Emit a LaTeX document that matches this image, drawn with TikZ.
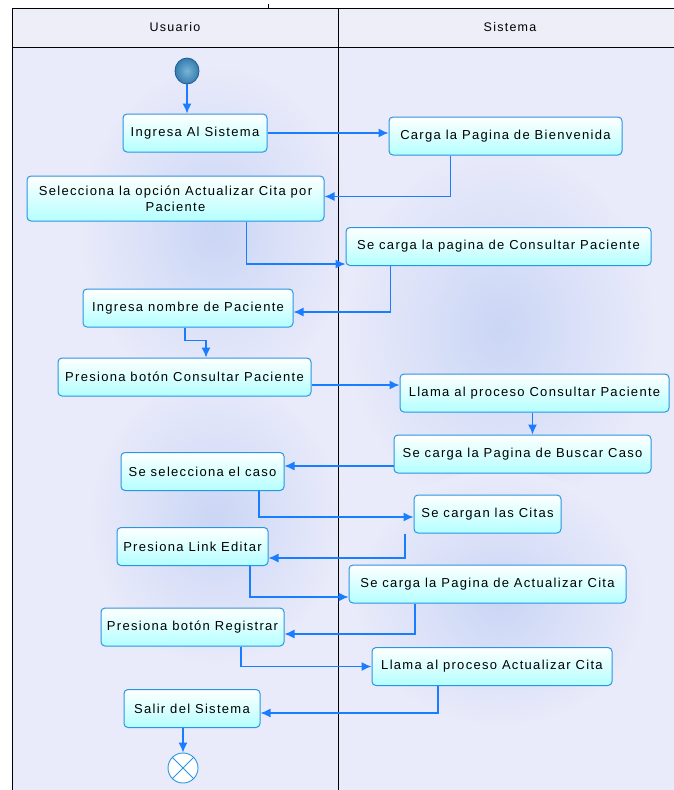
\documentclass[tikz,border=0pt]{standalone}
\usepackage{fontspec}
\setmainfont{Liberation Sans}[LetterSpace=10]
\usetikzlibrary{arrows.meta,shapes.geometric}
\definecolor{lane}{RGB}{234,235,250}
\definecolor{blob}{RGB}{202,214,245}
\definecolor{hdr}{RGB}{238,238,248}
\definecolor{nodeb}{RGB}{40,150,225}
\definecolor{conn}{RGB}{25,125,255}
\definecolor{cyanf}{RGB}{180,255,255}
\tikzset{
  act/.style={draw=nodeb, line width=1pt, rounded corners=4pt, top color=white, bottom color=cyanf,
    minimum height=38pt, font=\fontsize{13}{16}\selectfont, inner sep=2pt, align=center},
  flow/.style={draw=conn, line width=1.3pt, -{Latex[length=10pt,width=9pt]}},
  lanetxt/.style={font=\fontsize{12.5}{15}\selectfont}
}
\begin{document}
\begin{tikzpicture}[x=1pt,y=-1pt]
\useasboundingbox (0,0) rectangle (674,790);
% lanes
\fill[lane] (12,47) rectangle (674,790);
\begin{scope}
\clip (12,47) rectangle (674,790);
\shade[inner color=blob, outer color=lane] (215,230) ellipse (140 and 170);
\shade[inner color=blob, outer color=lane] (215,520) ellipse (130 and 150);
\shade[inner color=blob, outer color=lane] (500,330) ellipse (160 and 190);
\shade[inner color=blob, outer color=lane] (500,600) ellipse (150 and 130);
\end{scope}
\fill[hdr] (12,8) rectangle (674,47);
\draw[black, line width=0.9pt] (12,790) -- (12,8) -- (674,8);
\draw[black, line width=0.9pt] (12,47) -- (674,47);
\draw[black, line width=0.9pt] (338,8) -- (338,790);
\draw[black, line width=0.8pt] (268,4) -- (268,8);
\node[lanetxt] (usu) at (175,27) {Usuario};
\node[lanetxt] (sis) at (510,27) {Sistema};
% nodes
\node[ellipse, minimum width=24pt, minimum height=26pt, inner sep=0pt, draw={rgb,255:red,30;green,90;blue,150}, line width=0.8pt,
  inner color={rgb,255:red,120;green,180;blue,215}, outer color={rgb,255:red,55;green,125;blue,175}] (start) at (187,71) {};
\node[act, minimum width=144pt] (n1) at (195,133) {Ingresa Al Sistema};
\node[act, minimum width=233pt] (n3) at (505.5,136) {Carga la Pagina de Bienvenida};
\node[act, minimum width=297pt, minimum height=45pt] (n4) at (175.5,198.5) {Selecciona la opción Actualizar Cita por\\Paciente};
\node[act, minimum width=305pt] (n5) at (498.5,246.5) {Se carga la pagina de Consultar Paciente};
\node[act, minimum width=210pt] (n6) at (188,308) {Ingresa nombre de Paciente};
\node[act, minimum width=253pt] (n7) at (184.5,377) {Presiona botón Consultar Paciente};
\node[act, minimum width=269pt] (n8) at (534.5,393) {Llama al proceso Consultar Paciente};
\node[act, minimum width=257pt] (n9) at (522.5,454) {Se carga la Pagina de Buscar Caso};
\node[act, minimum width=163pt] (n10) at (202.5,471.5) {Se selecciona el caso};
\node[act, minimum width=147pt] (n11) at (487.5,514) {Se cargan las Citas};
\node[act, minimum width=151pt] (n12) at (192.5,546.5) {Presiona Link Editar};
\node[act, minimum width=277pt] (n13) at (487.5,584) {Se carga la Pagina de Actualizar Cita};
\node[act, minimum width=183pt] (n14) at (192.5,627) {Presiona botón Registrar};
\node[act, minimum width=240pt] (n15) at (492,666.5) {Llama al proceso Actualizar Cita};
\node[act, minimum width=136pt] (n16) at (192,708.5) {Salir del Sistema};
\node[circle, minimum size=30pt, inner sep=0pt, draw=nodeb, line width=0.9pt, fill=white] (end) at (183,768) {};
\draw[nodeb, line width=0.8pt] (end.north west) -- (end.south east) (end.north east) -- (end.south west);
% connectors
\draw[flow] (start.south) -- (start.south |- n1.north);
\draw[flow] (n1.east) -- (n1.east -| n3.west);
\draw[flow] ([xshift=-55pt]n3.south) |- ([yshift=2pt]n4.east);
\draw[flow] ([xshift=71pt]n4.south) |- ([yshift=-17.5pt]n5.west);
\draw[flow] ([xshift=-108pt]n5.south) |- ([yshift=-4pt]n6.east);
\draw[flow] ([xshift=-3pt]n6.south) -- ++(0,13) -| ([xshift=21.5pt]n7.north);
\draw[flow] ([yshift=-8pt]n7.east) -- ([yshift=-8pt]n7.east -| n8.west);
\draw[flow] ([xshift=-2pt]n8.south) -- ([xshift=-2pt]n8.south |- n9.north);
\draw[flow] ([yshift=-12pt]n9.west) -- ([yshift=-12pt]n9.west -| n10.east);
\draw[flow] ([xshift=56.5pt]n10.south) |- ([yshift=-3pt]n11.west);
\draw[flow] ([xshift=-82.5pt]n11.south) |- ([yshift=-11.5pt]n12.east);
\draw[flow] ([xshift=57.5pt]n12.south) |- ([yshift=-13pt]n13.west);
\draw[flow] ([xshift=-72.5pt]n13.south) |- ([yshift=-7pt]n14.east);
\draw[flow] ([xshift=48.5pt]n14.south) |- (n15.west);
\draw[flow] ([xshift=-54pt]n15.south) |- ([yshift=-4.5pt]n16.east);
\draw[flow] (end |- n16.south) -- (end.north);
\end{tikzpicture}
\end{document}
